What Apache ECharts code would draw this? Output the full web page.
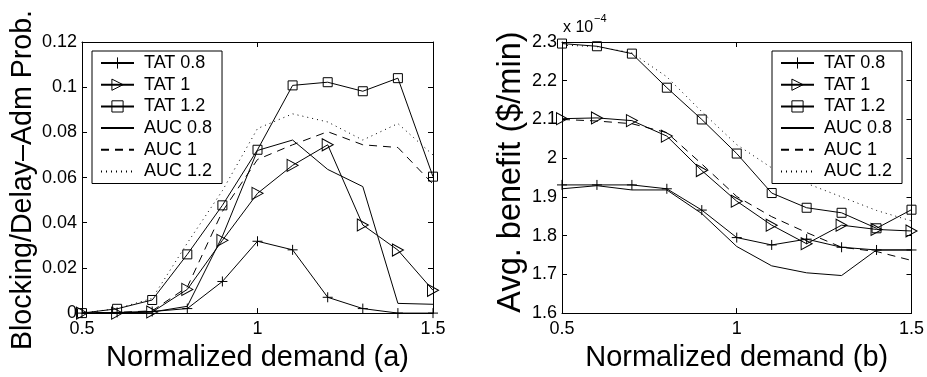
<!DOCTYPE html>
<html>
<head>
<meta charset="utf-8">
<script src="https://cdn.jsdelivr.net/npm/echarts@6/dist/echarts.min.js"></script>
<style>
html,body{margin:0;padding:0;background:#fff;}
#c{width:927px;height:377px;}
</style>
</head>
<body>
<div id="c"></div>
<script>
// ---- data ----
const demand = [0.5, 0.6, 0.7, 0.8, 0.9, 1.0, 1.1, 1.2, 1.3, 1.4, 1.5];
const seriesNames = ['TAT 0.8', 'TAT 1', 'TAT 1.2', 'AUC 0.8', 'AUC 1', 'AUC 1.2'];

// (a) Blocking/Delay-Adm probability
const tat08A = [0, 0.0003, 0.0007, 0.002, 0.014, 0.0318, 0.028, 0.007, 0.002, 0, 0];
const tat1A  = [0, 0, 0.0005, 0.0105, 0.0322, 0.053, 0.0654, 0.0745, 0.039, 0.0279, 0.0101];
const tat12A = [0, 0.0019, 0.0058, 0.026, 0.0477, 0.0723, 0.1008, 0.1022, 0.0982, 0.104, 0.0604];
const auc08A = [0, 0.0002, 0.0005, 0.003, 0.034, 0.072, 0.0766, 0.0636, 0.056, 0.0043, 0.0039];
const auc1A  = [0, 0.0003, 0.001, 0.0115, 0.045, 0.068, 0.0745, 0.0803, 0.0745, 0.0733, 0.0571];
const auc12A = [0, 0.002, 0.0065, 0.031, 0.0542, 0.0817, 0.0882, 0.0846, 0.0766, 0.0839, 0.070];

// (b) Avg. benefit ($/min), in units of 1e-4
const tat08B = [1.931, 1.931, 1.931, 1.921, 1.866, 1.795, 1.776, 1.791, 1.770, 1.763, 1.763];
const tat1B  = [2.102, 2.104, 2.097, 2.057, 1.968, 1.889, 1.827, 1.779, 1.827, 1.816, 1.812];
const tat12B = [2.296, 2.289, 2.270, 2.182, 2.100, 2.012, 1.910, 1.872, 1.859, 1.819, 1.867];
const auc08B = [1.921, 1.929, 1.918, 1.918, 1.857, 1.772, 1.722, 1.704, 1.697, 1.763, 1.763];
const auc1B  = [2.100, 2.096, 2.089, 2.066, 1.985, 1.901, 1.849, 1.808, 1.770, 1.759, 1.736];
const auc12B = [2.292, 2.288, 2.272, 2.210, 2.120, 2.035, 1.975, 1.935, 1.900, 1.865, 1.838];

const xTicks = { min: 0.5, max: 1.5, interval: 0.5 };
const yTicksA = { min: 0, max: 0.12, interval: 0.02 };
const yTicksB = { min: 1.6, max: 2.3, interval: 0.1 };

// ---- styles ----
const FONT = 'Liberation Sans, Arial, Helvetica, sans-serif';
const plusPath = 'path://M5,0L5,10M0,5L10,5';
const triPath = 'path://M0,0L10,5L0,10Z';
const CLEAR = 'rgba(0,0,0,0)';
const styles = {
  'TAT 0.8': { symbol: plusPath, symbolSize: 10, type: 'solid', marker: true },
  'TAT 1':   { symbol: triPath, symbolSize: [11, 12], type: 'solid', marker: true },
  'TAT 1.2': { symbol: 'rect', symbolSize: 9, type: 'solid', marker: true },
  'AUC 0.8': { symbol: 'none', type: 'solid', marker: false },
  'AUC 1':   { symbol: 'none', type: [8, 6], marker: false },
  'AUC 1.2': { symbol: 'none', type: [1, 4], marker: false }
};

function mk(name, vals, idx) {
  const st = styles[name];
  return {
    name: name,
    type: 'line',
    xAxisIndex: idx * 2,
    yAxisIndex: idx * 2,
    data: demand.map((x, i) => [x, vals[i]]),
    symbol: st.symbol,
    symbolSize: st.symbolSize,
    showSymbol: st.marker,
    lineStyle: { color: '#000', width: 1, type: st.type },
    itemStyle: { color: CLEAR, borderColor: st.marker ? '#000' : CLEAR, borderWidth: st.marker ? 1 : 0 },
    emphasis: { disabled: true },
    animation: false,
    z: 3
  };
}

const grids = [
  { left: 82, top: 42, width: 351, height: 276 },
  { left: 562, top: 42, width: 351, height: 275 }
];

function xAxes(gi, name) {
  const base = {
    gridIndex: gi, type: 'value', min: xTicks.min, max: xTicks.max, interval: xTicks.interval,
    splitLine: { show: false },
    axisLine: { onZero: false, lineStyle: { color: '#000', width: 1 } },
    axisTick: { inside: true, length: 5, lineStyle: { color: '#000' } }
  };
  return [
    Object.assign({}, base, {
      position: 'bottom',
      axisLabel: { color: '#000', fontSize: 18, fontFamily: FONT, margin: 7 },
      name: name, nameLocation: 'middle', nameGap: 25,
      nameTextStyle: { color: '#000', fontSize: 29, fontFamily: FONT }
    }),
    Object.assign({}, base, { position: 'top', axisLabel: { show: false } })
  ];
}
function yAxes(gi, t, name, gap, fs, pad) {
  const base = {
    gridIndex: gi, type: 'value', min: t.min, max: t.max, interval: t.interval,
    splitLine: { show: false },
    axisLine: { onZero: false, lineStyle: { color: '#000', width: 1 } },
    axisTick: { inside: true, length: 5, lineStyle: { color: '#000' } }
  };
  return [
    Object.assign({}, base, {
      position: 'left',
      axisLabel: { color: '#000', fontSize: 18, fontFamily: FONT, margin: 5 },
      name: name, nameLocation: 'middle', nameGap: gap,
      nameTextStyle: { color: '#000', fontSize: fs, fontFamily: FONT, padding: pad }
    }),
    Object.assign({}, base, { position: 'right', axisLabel: { show: false } })
  ];
}

function legend(left) {
  return {
    data: seriesNames.map(n => ({
      name: n,
      itemStyle: styles[n].marker
        ? { color: CLEAR, borderColor: '#000', borderWidth: 1 }
        : { color: CLEAR, borderColor: CLEAR, borderWidth: 0 }
    })),
    orient: 'vertical',
    left: left, top: 51,
    backgroundColor: '#fff',
    borderColor: '#000', borderWidth: 1, borderRadius: 0,
    padding: [3, 10, 3, 8],
    itemWidth: 33, itemHeight: 14, itemGap: 3.7,
    textStyle: { color: '#000', fontSize: 18, fontFamily: FONT, lineHeight: 18, padding: [0, 0, 0, 5] },
    selectedMode: false
  };
}

const chart = echarts.init(document.getElementById('c'), null, { renderer: 'canvas' });
chart.setOption({
  backgroundColor: '#fff',
  animation: false,
  grid: grids,
  xAxis: xAxes(0, 'Normalized demand (a)').concat(xAxes(1, 'Normalized demand (b)')),
  yAxis: yAxes(0, yTicksA, 'Blocking/Delay\u2013Adm Prob.', 40, 28.6, [0, 5, 0, 0])
    .concat(yAxes(1, yTicksB, 'Avg. benefit ($/min)', 34, 32.5, [0, 0, 0, 11])),
  legend: [legend(92), legend(772)],
  series: [
    mk('TAT 0.8', tat08A, 0), mk('TAT 1', tat1A, 0), mk('TAT 1.2', tat12A, 0),
    mk('AUC 0.8', auc08A, 0), mk('AUC 1', auc1A, 0), mk('AUC 1.2', auc12A, 0),
    mk('TAT 0.8', tat08B, 1), mk('TAT 1', tat1B, 1), mk('TAT 1.2', tat12B, 1),
    mk('AUC 0.8', auc08B, 1), mk('AUC 1', auc1B, 1), mk('AUC 1.2', auc12B, 1)
  ],
  graphic: [
    { type: 'text', left: 563, top: 20, style: { text: 'x 10', font: '16px ' + FONT, fill: '#000' } },
    { type: 'text', left: 594, top: 13, style: { text: '\u22124', font: '11px ' + FONT, fill: '#000' } }
  ]
});
</script>
</body>
</html>
